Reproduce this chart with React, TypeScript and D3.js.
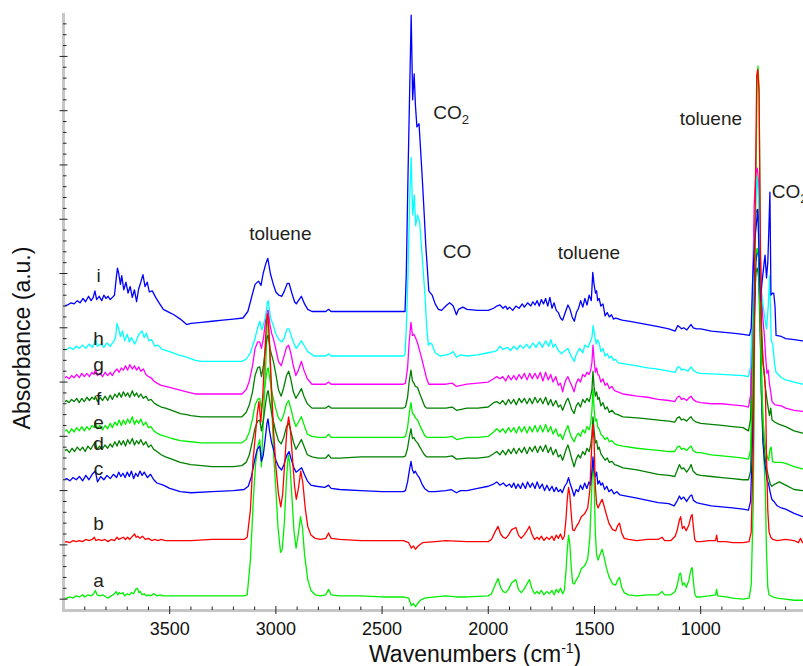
import React from "react";
import * as d3 from "d3";

// ---- data (wavenumber, absorbance relative to the trace's own offset) ----
const seriesLabels = ["a", "b", "c", "d", "e", "f", "g", "h", "i"];
const seriesColors = ["#00ee00", "#ff0000", "#0000ff", "#008000", "#00ee00", "#008000", "#ff00ff", "#00ffff", "#0000ff"];
const seriesOffsets = [1, 52, 110, 136, 154, 181, 203, 229, 270];

const specA = [4000,0, 3985,0, 3970,1, 3955,0, 3940,2, 3925,1, 3910,3, 3900,1, 3885,3, 3870,2, 3858,4, 3850,7, 3842,3, 3830,2, 3815,3, 3800,1, 3790,0, 3775,2, 3760,4, 3752,6, 3745,3, 3738,5, 3730,4, 3720,5, 3712,2, 3700,4, 3690,3, 3680,5, 3670,4, 3660,8, 3652,9, 3645,5, 3638,6, 3630,3, 3620,4, 3610,2, 3600,3, 3590,2, 3575,4, 3560,2, 3545,3, 3530,2, 3500,2, 3400,2, 3300,2, 3200,2, 3150,2, 3135,3, 3120,35, 3105,95, 3095,125, 3085,140, 3076,146, 3068,121, 3058,170, 3048,215, 3040,255, 3036,260, 3030,230, 3020,180, 3010,130, 3000,100, 2990,65, 2978,42, 2970,45, 2960,70, 2950,110, 2942,132, 2935,125, 2925,95, 2915,62, 2905,46, 2895,58, 2884,75, 2875,65, 2865,40, 2850,17, 2835,7, 2815,3, 2790,2, 2765,3, 2752,8, 2740,3, 2700,2, 2600,2, 2500,1, 2400,1, 2375,0, 2362,-7, 2352,-5, 2343,-8, 2332,-5, 2320,-2, 2300,0, 2250,1, 2200,2, 2150,1, 2100,1, 2000,2, 1985,4, 1968,12, 1954,18, 1942,10, 1930,6, 1918,5, 1905,8, 1890,14, 1870,17, 1858,8, 1845,5, 1832,8, 1818,13, 1806,17, 1795,9, 1782,4, 1770,6, 1760,4, 1750,7, 1738,3, 1725,6, 1712,4, 1700,7, 1690,3, 1680,8, 1670,5, 1660,9, 1650,4, 1642,7, 1634,25, 1628,45, 1622,58, 1616,50, 1610,30, 1603,14, 1595,13, 1585,17, 1575,20, 1562,27, 1545,30, 1532,36, 1522,55, 1514,95, 1508,125, 1502,110, 1496,60, 1490,40, 1483,35, 1474,40, 1464,45, 1455,38, 1444,28, 1432,20, 1415,13, 1400,12, 1390,17, 1382,19, 1372,10, 1360,5, 1340,3, 1300,2, 1250,3, 1200,3, 1182,6, 1170,3, 1140,3, 1120,6, 1110,12, 1100,22, 1094,23, 1086,12, 1078,14, 1068,10, 1056,16, 1046,26, 1040,28, 1034,15, 1028,4, 1020,1, 1000,1, 960,2, 930,3, 925,8, 920,2, 880,1, 850,0, 800,-1, 772,0, 762,12, 752,90, 742,340, 734,480, 730,490, 725,470, 719,320, 713,210, 706,150, 700,120, 695,95, 690,42, 684,10, 678,3, 660,1, 640,0, 600,-1, 560,-2, 520,-2, 480,-2];

const specB = [4000,0, 3985,1, 3970,0, 3955,2, 3940,1, 3925,2, 3910,1, 3895,3, 3880,2, 3865,3, 3855,5, 3848,2, 3835,3, 3820,2, 3805,3, 3790,1, 3775,3, 3760,2, 3748,5, 3740,3, 3730,4, 3718,5, 3708,3, 3698,5, 3688,3, 3675,6, 3665,8, 3658,5, 3650,6, 3640,4, 3628,6, 3615,3, 3600,4, 3585,2, 3570,3, 3555,2, 3540,3, 3520,2, 3400,2, 3300,3, 3150,3, 3135,5, 3120,30, 3108,75, 3097,98, 3088,118, 3080,130, 3071,111, 3062,135, 3052,175, 3044,205, 3038,211, 3030,185, 3020,140, 3010,100, 3000,70, 2988,45, 2977,33, 2968,45, 2958,75, 2948,105, 2940,116, 2932,105, 2922,78, 2912,52, 2904,40, 2894,50, 2883,66, 2873,55, 2862,32, 2850,15, 2835,7, 2815,4, 2790,3, 2765,4, 2752,9, 2740,4, 2700,3, 2600,2, 2400,2, 2375,0, 2362,-5, 2352,-3, 2343,-6, 2330,-3, 2310,0, 2250,1, 2200,2, 2100,1, 2000,1, 1985,3, 1968,10, 1954,15, 1942,8, 1930,5, 1918,4, 1905,7, 1890,12, 1870,14, 1858,7, 1845,4, 1832,7, 1818,11, 1806,15, 1795,8, 1782,3, 1770,5, 1760,3, 1750,6, 1738,2, 1725,5, 1712,3, 1700,6, 1690,2, 1680,7, 1670,4, 1660,8, 1650,3, 1642,6, 1634,22, 1628,40, 1622,51, 1616,44, 1610,28, 1603,12, 1595,11, 1585,15, 1575,18, 1562,24, 1545,27, 1532,32, 1522,48, 1514,85, 1508,109, 1502,95, 1496,52, 1490,36, 1483,32, 1474,36, 1464,40, 1455,34, 1444,26, 1432,18, 1415,12, 1400,11, 1390,16, 1382,18, 1372,9, 1360,4, 1340,3, 1300,2, 1250,3, 1200,3, 1182,5, 1170,2, 1140,2, 1120,6, 1110,12, 1100,21, 1094,24, 1086,13, 1078,15, 1068,11, 1056,16, 1046,24, 1040,26, 1034,14, 1028,3, 1020,1, 1000,1, 960,2, 930,2, 925,7, 920,1, 880,1, 850,0, 800,0, 772,1, 762,10, 752,90, 744,300, 736,430, 731,436, 725,415, 719,280, 713,190, 706,165, 700,155, 695,140, 690,80, 684,30, 678,10, 670,5, 660,3, 640,2, 600,3, 560,2, 540,0, 530,4, 520,0, 480,-1];

const specC = [4000,0, 3985,1, 3970,-1, 3955,2, 3940,0, 3925,3, 3910,-1, 3895,4, 3880,0, 3865,5, 3850,8, 3840,-2, 3825,3, 3810,0, 3795,4, 3780,1, 3765,5, 3750,2, 3740,7, 3730,3, 3720,6, 3710,2, 3700,7, 3690,3, 3680,8, 3670,1, 3660,6, 3650,3, 3640,8, 3630,4, 3620,7, 3605,2, 3590,5, 3575,0, 3560,-3, 3530,-5, 3500,-8, 3450,-11, 3400,-12, 3300,-11, 3200,-10, 3150,-9, 3130,-6, 3115,3, 3100,18, 3088,28, 3076,31, 3068,17, 3060,22, 3050,38, 3042,52, 3037,56, 3030,45, 3020,34, 3010,27, 3000,18, 2987,12, 2973,9, 2962,14, 2948,23, 2938,26, 2928,19, 2915,11, 2905,7, 2892,9, 2879,11, 2866,5, 2852,-1, 2835,-5, 2810,-6, 2770,-7, 2752,-5, 2740,-8, 2700,-9, 2600,-10, 2500,-11, 2400,-11, 2390,-10, 2380,-2, 2372,8, 2364,17, 2357,9, 2350,6, 2344,8, 2336,5, 2325,2, 2312,-4, 2300,-8, 2280,-11, 2250,-11, 2200,-10, 2175,-9, 2150,-12, 2130,-10, 2100,-10, 2050,-8, 2000,-6, 1975,-4, 1960,-2, 1945,-5, 1930,-3, 1915,-6, 1900,-4, 1890,-7, 1880,-3, 1870,-8, 1860,-4, 1848,-8, 1838,-3, 1825,-8, 1815,-2, 1803,-7, 1792,-3, 1780,-8, 1770,-2, 1758,-8, 1746,-4, 1735,-10, 1724,-5, 1712,-10, 1700,-6, 1690,-11, 1680,-7, 1670,-11, 1660,-9, 1652,-12, 1640,-6, 1630,-3, 1622,2, 1614,-4, 1605,-9, 1596,-15, 1586,-9, 1576,-11, 1566,-5, 1556,-9, 1546,-3, 1536,-8, 1526,-2, 1518,-5, 1512,8, 1507,21, 1502,8, 1496,3, 1490,7, 1484,-4, 1477,-1, 1470,-5, 1462,-3, 1452,-9, 1442,-6, 1432,-11, 1420,-9, 1408,-13, 1395,-11, 1380,-14, 1350,-15, 1300,-17, 1250,-19, 1200,-21, 1150,-22, 1125,-24, 1112,-20, 1100,-15, 1092,-18, 1080,-16, 1066,-20, 1050,-15, 1042,-14, 1034,-19, 1020,-21, 1000,-22, 950,-24, 900,-25, 850,-26, 800,-27, 775,-28, 765,-20, 757,30, 748,140, 740,200, 733,213, 727,205, 720,150, 714,80, 707,35, 700,18, 694,10, 688,0, 680,-4, 672,-12, 665,-18, 655,-20, 640,-24, 620,-26, 600,-27, 560,-31, 520,-34, 480,-35];

const specD = [4000,0, 3985,2, 3972,-1, 3960,3, 3948,0, 3935,4, 3922,1, 3910,4, 3898,0, 3885,5, 3872,2, 3860,6, 3850,9, 3842,2, 3830,5, 3818,2, 3805,6, 3792,3, 3780,7, 3770,4, 3758,9, 3748,5, 3738,10, 3728,6, 3718,10, 3708,5, 3698,11, 3688,7, 3676,12, 3666,6, 3656,10, 3646,7, 3636,11, 3624,6, 3612,9, 3600,4, 3588,6, 3575,2, 3560,0, 3540,-3, 3520,-5, 3490,-7, 3450,-10, 3400,-12, 3350,-13, 3300,-14, 3200,-14, 3160,-13, 3140,-10, 3125,-3, 3110,10, 3098,22, 3086,28, 3076,29, 3068,19, 3058,30, 3048,45, 3040,55, 3036,56, 3028,45, 3020,35, 3012,28, 3000,18, 2988,10, 2975,7, 2963,13, 2950,23, 2940,26, 2930,19, 2918,9, 2906,2, 2894,6, 2880,11, 2868,5, 2852,-3, 2830,-5, 2800,-6, 2765,-6, 2752,-3, 2740,-6, 2700,-6, 2600,-5, 2400,-5, 2390,-4, 2380,3, 2372,13, 2364,21, 2357,12, 2350,13, 2343,10, 2333,8, 2322,4, 2310,0, 2300,-3, 2290,-5, 2200,-5, 2170,-4, 2150,-7, 2100,-6, 2050,-6, 2000,-5, 1975,-2, 1960,0, 1945,-3, 1932,1, 1918,-3, 1905,2, 1893,-2, 1880,3, 1868,-2, 1855,3, 1843,-1, 1830,4, 1818,-2, 1805,4, 1793,0, 1780,5, 1768,-1, 1755,5, 1743,0, 1730,6, 1718,-1, 1706,4, 1695,-3, 1682,2, 1670,-5, 1660,-3, 1650,-8, 1640,-2, 1632,3, 1625,6, 1617,1, 1608,-6, 1596,-14, 1586,-7, 1576,-3, 1566,-6, 1555,0, 1545,-3, 1535,3, 1525,0, 1518,6, 1512,15, 1507,32, 1502,20, 1496,8, 1490,10, 1484,2, 1478,4, 1470,-2, 1460,-5, 1450,-8, 1440,-6, 1430,-10, 1418,-9, 1405,-12, 1390,-13, 1366,-15, 1300,-17, 1250,-19, 1200,-21, 1150,-22, 1122,-23, 1110,-17, 1100,-12, 1090,-16, 1080,-15, 1066,-19, 1052,-15, 1045,-12, 1036,-18, 1020,-21, 1000,-22, 950,-23, 900,-24, 850,-25, 800,-26, 775,-26, 765,-18, 757,40, 748,130, 740,165, 733,169, 727,160, 720,110, 714,55, 707,20, 700,2, 694,-10, 688,-17, 680,-24, 672,-30, 665,-32, 650,-30, 630,-28, 600,-31, 560,-35, 520,-36, 480,-37];

const specE = [4000,0, 3986,2, 3974,-1, 3962,3, 3950,0, 3938,4, 3926,1, 3914,5, 3902,1, 3890,5, 3878,2, 3866,6, 3854,4, 3850,9, 3840,3, 3828,6, 3816,2, 3804,6, 3792,3, 3780,8, 3770,4, 3758,9, 3748,6, 3738,11, 3728,6, 3718,11, 3708,7, 3698,12, 3688,8, 3676,14, 3666,7, 3656,11, 3646,8, 3636,12, 3624,6, 3612,9, 3600,4, 3588,5, 3575,1, 3560,-1, 3540,-3, 3520,-4, 3490,-6, 3450,-8, 3400,-9, 3350,-10, 3300,-10, 3200,-10, 3160,-10, 3140,-7, 3125,0, 3110,12, 3098,25, 3086,30, 3076,31, 3068,21, 3058,33, 3048,48, 3040,58, 3036,59, 3028,48, 3020,38, 3012,31, 3000,21, 2988,13, 2975,10, 2963,16, 2950,26, 2940,29, 2930,22, 2918,12, 2906,5, 2894,9, 2880,14, 2868,7, 2852,-2, 2830,-4, 2800,-5, 2765,-5, 2752,-2, 2740,-5, 2700,-5, 2600,-5, 2400,-5, 2390,-4, 2380,4, 2372,17, 2364,27, 2357,17, 2350,16, 2343,13, 2333,11, 2322,6, 2310,1, 2300,-3, 2290,-5, 2200,-5, 2170,-4, 2150,-7, 2100,-5, 2050,-5, 2000,-4, 1975,0, 1960,3, 1945,0, 1932,3, 1918,-1, 1905,4, 1893,0, 1880,4, 1868,-1, 1855,5, 1843,0, 1830,5, 1818,-1, 1805,5, 1793,0, 1780,6, 1768,0, 1755,6, 1743,0, 1730,7, 1718,0, 1706,5, 1695,-2, 1682,3, 1670,-4, 1660,-2, 1650,-7, 1640,-1, 1632,3, 1625,6, 1617,0, 1608,-5, 1596,-9, 1586,-4, 1576,-1, 1566,-4, 1555,2, 1545,-1, 1535,5, 1525,2, 1518,8, 1512,20, 1507,40, 1502,22, 1496,10, 1490,12, 1484,4, 1478,3, 1470,-2, 1460,-4, 1450,-7, 1440,-5, 1430,-9, 1418,-8, 1405,-11, 1390,-12, 1366,-13, 1300,-15, 1250,-16, 1200,-17, 1150,-18, 1122,-18, 1110,-14, 1100,-13, 1090,-16, 1080,-15, 1066,-17, 1052,-14, 1045,-13, 1036,-17, 1020,-19, 1000,-19, 950,-21, 900,-22, 850,-23, 800,-24, 775,-25, 765,-16, 757,45, 748,140, 740,165, 733,169, 727,160, 720,110, 714,50, 707,15, 700,-5, 694,-15, 688,-22, 680,-26, 674,-16, 668,-14, 662,-27, 650,-28, 620,-28, 600,-29, 560,-32, 520,-34, 480,-35];

const specF = [4000,0, 3986,2, 3974,0, 3962,3, 3950,1, 3938,4, 3926,0, 3914,4, 3902,1, 3890,5, 3878,2, 3866,5, 3854,3, 3850,6, 3840,1, 3828,5, 3816,2, 3804,6, 3792,2, 3780,7, 3770,3, 3758,8, 3748,5, 3738,9, 3728,5, 3718,10, 3708,6, 3698,9, 3688,5, 3676,11, 3666,6, 3656,9, 3646,5, 3636,8, 3624,4, 3612,6, 3600,2, 3588,3, 3575,0, 3560,-2, 3540,-4, 3520,-5, 3490,-7, 3450,-10, 3420,-11, 3400,-12, 3350,-13, 3300,-13, 3200,-13, 3160,-13, 3140,-9, 3125,-2, 3110,10, 3098,25, 3086,32, 3076,33, 3068,24, 3058,35, 3048,52, 3040,61, 3036,62, 3028,50, 3020,44, 3012,38, 3000,26, 2988,12, 2975,6, 2963,14, 2950,25, 2940,29, 2930,22, 2918,10, 2906,4, 2894,8, 2880,13, 2868,6, 2852,-1, 2830,-5, 2800,-5, 2765,-5, 2752,-3, 2740,-5, 2700,-5, 2600,-5, 2400,-5, 2390,-4, 2380,5, 2372,20, 2364,30, 2357,20, 2350,18, 2343,15, 2333,14, 2322,8, 2310,2, 2300,-3, 2290,-5, 2200,-5, 2170,-4, 2150,-7, 2100,-5, 2050,-5, 2000,-4, 1975,0, 1960,1, 1945,-1, 1932,2, 1918,-2, 1905,3, 1893,-1, 1880,3, 1868,-2, 1855,4, 1843,0, 1830,4, 1818,-1, 1805,4, 1793,-1, 1780,5, 1768,0, 1755,4, 1743,-1, 1730,5, 1718,-2, 1706,3, 1695,-3, 1682,2, 1670,-4, 1660,-2, 1650,-7, 1640,-2, 1632,2, 1625,4, 1617,0, 1608,-6, 1596,-10, 1586,-3, 1576,0, 1566,-4, 1555,3, 1545,0, 1535,4, 1525,1, 1518,6, 1512,12, 1507,29, 1502,15, 1496,6, 1490,10, 1484,3, 1478,5, 1470,-3, 1460,0, 1450,-6, 1440,-4, 1430,-9, 1418,-7, 1405,-10, 1390,-11, 1366,-13, 1300,-14, 1250,-15, 1200,-16, 1150,-17, 1122,-18, 1110,-14, 1100,-13, 1090,-16, 1080,-15, 1066,-17, 1052,-14, 1045,-13, 1036,-16, 1020,-18, 1000,-19, 950,-20, 900,-21, 850,-22, 800,-23, 775,-26, 765,-15, 757,70, 748,160, 740,175, 733,178, 727,168, 720,120, 714,70, 707,40, 700,25, 694,12, 688,3, 682,-5, 676,-12, 670,-5, 664,-16, 650,-18, 630,-20, 600,-22, 560,-26, 520,-28, 480,-29];

const specG = [4000,0, 3986,2, 3974,0, 3962,3, 3950,1, 3938,4, 3926,1, 3914,5, 3902,2, 3890,5, 3878,2, 3866,6, 3856,4, 3850,9, 3840,3, 3828,5, 3816,2, 3804,6, 3792,3, 3780,6, 3770,3, 3758,7, 3748,9, 3738,6, 3728,10, 3718,8, 3708,12, 3698,8, 3688,13, 3676,9, 3666,12, 3656,8, 3646,11, 3636,7, 3624,9, 3612,4, 3600,2, 3588,1, 3575,-2, 3560,-4, 3540,-6, 3500,-8, 3460,-10, 3420,-12, 3380,-14, 3300,-14, 3200,-14, 3160,-14, 3140,-10, 3125,-2, 3110,12, 3098,28, 3086,34, 3076,34, 3068,28, 3058,38, 3048,55, 3040,63, 3036,63, 3028,50, 3020,42, 3012,37, 3000,27, 2988,16, 2975,12, 2963,20, 2950,29, 2940,31, 2930,24, 2918,12, 2906,3, 2894,8, 2880,16, 2868,8, 2852,0, 2830,-5, 2800,-5, 2765,-5, 2752,-3, 2740,-5, 2700,-5, 2600,-5, 2400,-5, 2390,-4, 2380,10, 2372,35, 2364,52, 2357,40, 2350,41, 2343,38, 2333,33, 2322,25, 2310,16, 2300,8, 2290,0, 2280,-5, 2200,-5, 2170,-4, 2150,-7, 2100,-5, 2050,-4, 2000,-3, 1975,0, 1960,2, 1945,0, 1932,2, 1918,-2, 1905,3, 1893,-1, 1880,3, 1868,-1, 1855,4, 1843,0, 1830,5, 1818,-1, 1805,5, 1793,0, 1780,5, 1768,0, 1755,6, 1743,-2, 1730,6, 1718,-1, 1706,4, 1695,-3, 1682,2, 1670,-6, 1660,-4, 1650,-12, 1640,-4, 1632,0, 1625,2, 1617,-2, 1608,-6, 1596,-12, 1586,-4, 1576,0, 1566,-3, 1555,4, 1545,2, 1535,6, 1525,4, 1518,8, 1512,15, 1507,31, 1502,18, 1496,6, 1490,10, 1484,4, 1478,3, 1470,-3, 1460,0, 1450,-6, 1440,-4, 1430,-9, 1418,-7, 1405,-11, 1390,-12, 1366,-14, 1300,-16, 1250,-17, 1200,-19, 1150,-20, 1122,-21, 1110,-17, 1100,-16, 1090,-19, 1080,-18, 1066,-20, 1052,-17, 1045,-16, 1036,-19, 1020,-21, 1000,-22, 950,-23, 900,-23, 850,-24, 800,-25, 775,-26, 765,-15, 757,60, 748,160, 740,190, 733,194, 727,180, 720,120, 714,80, 707,55, 700,40, 694,20, 688,5, 682,8, 676,-5, 670,-12, 664,-21, 650,-24, 620,-25, 600,-27, 560,-29, 520,-30, 480,-31];

const specH = [4000,0, 3985,1, 3970,3, 3955,1, 3940,4, 3925,2, 3910,5, 3895,2, 3880,6, 3865,3, 3856,6, 3850,11, 3840,4, 3825,6, 3810,3, 3795,7, 3780,4, 3765,8, 3755,12, 3748,25, 3740,20, 3732,13, 3722,18, 3712,9, 3700,15, 3690,8, 3680,12, 3665,6, 3655,10, 3645,15, 3630,18, 3620,12, 3610,16, 3598,9, 3585,10, 3570,4, 3555,5, 3535,1, 3500,-1, 3460,-4, 3420,-6, 3380,-9, 3350,-10, 3300,-10, 3200,-10, 3160,-10, 3140,-8, 3120,-2, 3100,10, 3090,18, 3076,27, 3066,19, 3050,30, 3040,44, 3036,46, 3025,30, 3012,23, 3000,15, 2985,10, 2972,8, 2960,12, 2947,20, 2938,20, 2925,12, 2912,5, 2904,2, 2893,5, 2880,9, 2865,4, 2850,-1, 2820,-5, 2765,-5, 2752,-3, 2740,-5, 2600,-5, 2400,-5, 2392,-4, 2386,20, 2378,70, 2370,140, 2363,178, 2356,125, 2348,143, 2342,115, 2333,125, 2323,118, 2313,92, 2305,70, 2297,48, 2290,22, 2282,5, 2274,7, 2266,6, 2250,-2, 2227,-5, 2200,-4, 2180,-3, 2165,-1, 2150,-6, 2130,-4, 2100,-5, 2050,-4, 2000,-2, 1975,-1, 1960,0, 1945,4, 1930,1, 1910,3, 1895,0, 1880,4, 1865,1, 1850,5, 1835,2, 1820,6, 1805,2, 1790,7, 1775,3, 1760,8, 1745,3, 1730,9, 1715,4, 1705,10, 1695,3, 1685,6, 1670,0, 1655,-3, 1645,-1, 1625,2, 1610,-5, 1595,-10, 1585,-3, 1570,2, 1555,-2, 1545,5, 1530,3, 1520,8, 1512,12, 1506,23, 1500,15, 1492,6, 1485,10, 1478,7, 1470,-1, 1460,2, 1450,-5, 1440,-3, 1430,-7, 1420,-5, 1410,-9, 1400,-8, 1390,-11, 1366,-12, 1300,-14, 1250,-16, 1200,-17, 1150,-19, 1120,-20, 1108,-15, 1100,-15, 1090,-18, 1080,-17, 1060,-19, 1045,-15, 1035,-18, 1020,-20, 1000,-21, 900,-22, 800,-23, 775,-24, 765,-15, 755,40, 745,120, 738,150, 733,160, 724,120, 718,60, 712,50, 705,40, 698,30, 690,20, 682,40, 675,69, 668,10, 660,5, 652,-12, 645,-20, 620,-25, 600,-27, 560,-29, 520,-31, 480,-32];

const specI = [4000,0, 3980,1, 3965,3, 3950,2, 3935,5, 3922,3, 3908,7, 3896,4, 3882,9, 3870,5, 3860,8, 3852,14, 3844,6, 3832,9, 3820,5, 3810,10, 3800,7, 3790,9, 3780,6, 3770,8, 3760,10, 3752,25, 3746,35, 3740,30, 3732,20, 3726,28, 3716,15, 3706,22, 3696,12, 3686,18, 3676,8, 3666,15, 3656,4, 3646,16, 3636,22, 3626,29, 3616,18, 3606,22, 3596,13, 3582,14, 3566,8, 3550,3, 3530,-3, 3500,-6, 3480,-8, 3450,-12, 3420,-17, 3400,-16, 3350,-15, 3300,-14, 3250,-13, 3200,-12, 3155,-11, 3132,-5, 3112,10, 3098,20, 3082,23, 3070,19, 3060,30, 3046,40, 3038,44, 3026,30, 3012,20, 3000,13, 2986,10, 2972,9, 2960,14, 2946,21, 2938,21, 2925,12, 2912,4, 2904,2, 2894,5, 2880,9, 2865,2, 2850,-3, 2830,-5, 2765,-5, 2752,-3, 2740,-5, 2600,-5, 2420,-5, 2392,-5, 2386,30, 2378,120, 2370,200, 2363,268, 2356,190, 2349,214, 2343,185, 2336,165, 2326,168, 2318,142, 2310,115, 2302,86, 2294,55, 2287,35, 2280,14, 2272,12, 2264,10, 2250,2, 2235,-3, 2220,-4, 2200,0, 2182,3, 2165,0, 2150,-8, 2140,-3, 2120,-1, 2100,-3, 2050,-4, 2000,-4, 1975,-2, 1960,0, 1945,1, 1930,-2, 1918,0, 1910,-3, 1900,-1, 1885,-4, 1870,0, 1855,-2, 1840,2, 1830,-1, 1815,3, 1800,0, 1790,4, 1780,1, 1770,5, 1760,0, 1750,6, 1740,2, 1730,7, 1720,0, 1710,8, 1700,-2, 1690,3, 1680,-4, 1670,-6, 1660,-11, 1650,-13, 1636,-5, 1625,1, 1615,-3, 1605,-10, 1595,-14, 1585,-6, 1575,-2, 1565,5, 1555,-1, 1545,7, 1535,1, 1525,10, 1515,5, 1508,31, 1502,20, 1495,12, 1490,14, 1485,5, 1478,7, 1470,0, 1460,2, 1450,-9, 1440,-6, 1430,-10, 1420,-8, 1410,-12, 1400,-11, 1370,-13, 1333,-14, 1250,-17, 1200,-19, 1150,-21, 1120,-23, 1108,-18, 1100,-19, 1090,-21, 1080,-20, 1065,-22, 1050,-18, 1045,-17, 1035,-20, 1020,-21, 1000,-21, 950,-23, 900,-24, 850,-25, 800,-26, 770,-27, 762,-20, 756,20, 746,60, 738,75, 731,89, 724,40, 718,5, 712,20, 704,35, 697,47, 690,26, 684,40, 679,70, 674,105, 669,10, 662,12, 656,12, 650,0, 645,-27, 620,-28, 600,-30, 560,-31, 520,-32, 480,-33];

const spectra = [specA, specB, specC, specD, specE, specF, specG, specH, specI];

// axis ticks
const xMajorTicks = [3500, 3000, 2500, 2000, 1500, 1000];
const xMinorTicks = [3900, 3800, 3700, 3600, 3400, 3300, 3200, 3100, 2900, 2800, 2700, 2600, 2400, 2300, 2200, 2100, 1900, 1800, 1700, 1600, 1400, 1300, 1200, 1100, 900, 800, 700, 600];
const yTickStep = 10;
const yMajorEvery = 50;

// annotations: text, wavenumber, absorbance level
const annotationTexts = ["toluene", "CO", "toluene", "toluene"];
const annotationWn = [2979, 2147, 1526, 952];
const annotationAbs = [331, 314, 313, 437];
const co2Texts = ["CO", "CO"];
const co2Wn = [2175, 665];
const co2Abs = [442, 370];
const labelWn = 3835;
const labelAbs = [11, 64, 114, 137, 157, 179, 210, 234, 292];

const W = 803;
const H = 666;
const FONT = "'Liberation Sans', Arial, Helvetica, sans-serif";

function pairs(arr: number[]): [number, number][] {
  const out: [number, number][] = [];
  for (let k = 0; k < arr.length; k += 2) out.push([arr[k], arr[k + 1]]);
  return out;
}

export default function App() {
  const x = d3.scaleLinear().domain([4000, 400]).range([63.5, 828.1]);
  const y = d3.scaleLinear().domain([-10, 540]).range([610, 13]);
  const yTicks = d3.range(0, 540, yTickStep);

  const order = [0, 2, 3, 4, 5, 6, 7, 8, 1];

  return (
    <svg width={W} height={H} style={{ position: "absolute", left: 0, top: 0, background: "#fff" }} fontFamily={FONT}>
      <rect x={0} y={0} width={W} height={H} fill="#fff" />
      {order.map((si) => {
        const off = seriesOffsets[si];
        const line = d3
          .line<[number, number]>()
          .x((d) => x(d[0]))
          .y((d) => y(off + d[1]));
        return (
          <path key={si} d={line(pairs(spectra[si])) || ""} fill="none" stroke={seriesColors[si]} strokeWidth={1.3} strokeLinejoin="round" />
        );
      })}
      {/* axes */}
      <line x1={63.5} y1={13} x2={63.5} y2={612} stroke="#c6c6c6" strokeWidth={3} />
      <line x1={62} y1={610.5} x2={W} y2={610.5} stroke="#c6c6c6" strokeWidth={3} />
      {yTicks.map((t) => {
        const major = t % yMajorEvery === 0;
        return (
          <line key={"yt" + t} x1={major ? 59.5 : 63} x2={major ? 67.5 : 66.5} y1={y(t)} y2={y(t)} stroke="#222" strokeWidth={1} />
        );
      })}
      {xMinorTicks.map((t) => (
        <line key={"xm" + t} x1={x(t)} x2={x(t)} y1={606.5} y2={610} stroke="#222" strokeWidth={1} />
      ))}
      {xMajorTicks.map((t) => (
        <g key={"xM" + t}>
          <line x1={x(t)} x2={x(t)} y1={606} y2={614} stroke="#222" strokeWidth={1} />
          <text x={x(t)} y={634.5} fontSize={18} textAnchor="middle" fill="#111">{t}</text>
        </g>
      ))}
      {/* axis titles */}
      <text x={369} y={661.5} fontSize={23} fill="#111">
        Wavenumbers (cm<tspan dy={-9} fontSize={14}>-1</tspan><tspan dy={9} fontSize={23}>)</tspan>
      </text>
      <text transform="translate(30,338) rotate(-90)" fontSize={23} textAnchor="middle" fill="#111">Absorbance (a.u.)</text>
      {/* series labels */}
      {seriesLabels.map((l, k) => (
        <text key={"lab" + l} x={x(labelWn)} y={y(labelAbs[k])} fontSize={19} textAnchor="middle" fill="#231f20">{l}</text>
      ))}
      {/* annotations */}
      {annotationTexts.map((t, k) => (
        <text key={"an" + k} x={x(annotationWn[k])} y={y(annotationAbs[k])} fontSize={19} textAnchor="middle" fill="#231f20">{t}</text>
      ))}
      {co2Texts.map((t, k) => (
        <text key={"co2" + k} x={x(co2Wn[k])} y={y(co2Abs[k])} fontSize={19} textAnchor={k === 0 ? "middle" : "start"} fill="#231f20">
          {t}<tspan dy={5} fontSize={13}>2</tspan>
        </text>
      ))}
    </svg>
  );
}
